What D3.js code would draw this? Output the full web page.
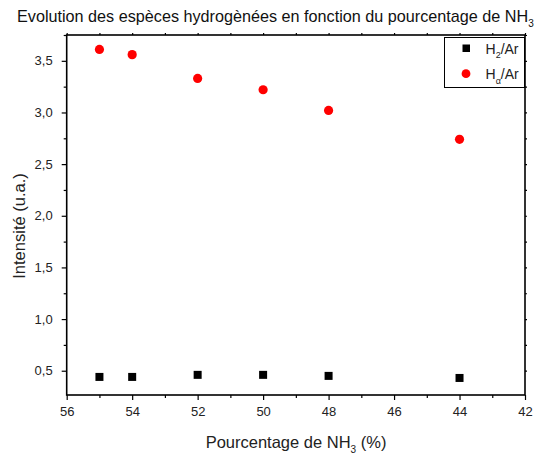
<!DOCTYPE html>
<html>
<head>
<meta charset="utf-8">
<script src="https://cdn.jsdelivr.net/npm/d3@7"></script>
<style>
  html, body { margin: 0; padding: 0; background: #fff; }
  svg { display: block; font-family: "Liberation Sans", Arial, sans-serif; }
</style>
</head>
<body>
<svg id="chart" width="549" height="455"></svg>
<script>
const percentNH3 = [55, 54, 52, 50, 48, 44];
const h2Ar = [0.44, 0.44, 0.46, 0.46, 0.45, 0.43];
const hAlphaAr = [3.61, 3.56, 3.33, 3.22, 3.02, 2.74];
const xMajorTicks = [56, 54, 52, 50, 48, 46, 44, 42];
const xMinorTicks = [55, 53, 51, 49, 47, 45, 43];
const yMajorTicks = [0.5, 1.0, 1.5, 2.0, 2.5, 3.0, 3.5];
const yMinorTicks = [0.75, 1.25, 1.75, 2.25, 2.75, 3.25, 3.75];

(function () {
const svg = d3.select("#chart");
const pL = 66.7, pR = 525, pT = 35, pB = 395;

const x = d3.scaleLinear().domain([56, 42]).range([pL, pR]);
const y = d3.scaleLinear().domain([0.265, 3.75]).range([pB, pT]);
const fmt = d => d.toFixed(1).replace(".", ",");

function styleAxis(g) {
  g.select(".domain").remove();
  g.selectAll(".tick line").attr("stroke", "#000").attr("stroke-width", 1.2);
  g.selectAll(".tick text").attr("fill", "#222").style("font-size", "13px").style("font-family", "'Liberation Sans', Arial, sans-serif");
}

// bottom axis
svg.append("g").attr("transform", `translate(0,${pB})`)
  .call(d3.axisBottom(x).tickValues(xMajorTicks).tickFormat(d3.format("d")).tickSize(5).tickPadding(7))
  .call(styleAxis);
svg.append("g").attr("transform", `translate(0,${pB})`)
  .call(d3.axisBottom(x).tickValues(xMinorTicks).tickFormat("").tickSize(3))
  .call(styleAxis);
// left axis
svg.append("g").attr("transform", `translate(${pL},0)`)
  .call(d3.axisLeft(y).tickValues(yMajorTicks).tickFormat(fmt).tickSize(5).tickPadding(9))
  .call(styleAxis);
svg.append("g").attr("transform", `translate(${pL},0)`)
  .call(d3.axisLeft(y).tickValues(yMinorTicks).tickFormat("").tickSize(3))
  .call(styleAxis);
// top axis
svg.append("g").attr("transform", `translate(0,${pT})`)
  .call(d3.axisTop(x).tickValues(xMajorTicks.concat(xMinorTicks)).tickFormat("").tickSize(2))
  .call(styleAxis);
// right axis
svg.append("g").attr("transform", `translate(${pR},0)`)
  .call(d3.axisRight(y).tickValues(yMajorTicks.concat(yMinorTicks)).tickFormat("").tickSize(2))
  .call(styleAxis);

// frame
svg.append("rect").attr("x", pL).attr("y", pT)
  .attr("width", pR - pL).attr("height", pB - pT)
  .attr("fill", "none").attr("stroke", "#000").attr("stroke-width", 1.6);

// data
svg.append("g").selectAll("rect").data(percentNH3).join("rect")
  .attr("x", d => x(d) - 4).attr("y", (d, i) => y(h2Ar[i]) - 4)
  .attr("width", 8).attr("height", 8).attr("fill", "#000");
svg.append("g").selectAll("circle").data(percentNH3).join("circle")
  .attr("cx", d => x(d)).attr("cy", (d, i) => y(hAlphaAr[i]))
  .attr("r", 4.6).attr("fill", "#ff0000");

// legend
const lg = svg.append("g");
lg.append("rect").attr("x", 444.5).attr("y", 37.5).attr("width", 80).attr("height", 50)
  .attr("fill", "#fff").attr("stroke", "#000").attr("stroke-width", 1);
lg.append("rect").attr("x", 462.5).attr("y", 44.5).attr("width", 7.5).attr("height", 7.5).attr("fill", "#000");
lg.append("circle").attr("cx", 466).attr("cy", 73.7).attr("r", 4.4).attr("fill", "#ff0000");
const t1 = lg.append("text").attr("x", 485.5).attr("y", 53.5).style("font-size", "14px").attr("fill", "#222");
t1.append("tspan").text("H");
t1.append("tspan").attr("dy", 4).style("font-size", "9px").text("2");
t1.append("tspan").attr("dy", -4).text("/Ar");
const t2 = lg.append("text").attr("x", 485.5).attr("y", 78.5).style("font-size", "14px").attr("fill", "#222");
t2.append("tspan").text("H");
t2.append("tspan").attr("dy", 5).style("font-size", "9px").text("α");
t2.append("tspan").attr("dy", -5).text("/Ar");

// title
const title = svg.append("text").attr("x", 17).attr("y", 22).style("font-size", "16.2px").attr("fill", "#111");
title.append("tspan").text("Evolution des espèces hydrogènées en fonction du pourcentage de NH");
title.append("tspan").attr("dy", 5).style("font-size", "10px").text("3");

// x label
const xl = svg.append("text").attr("x", 296).attr("y", 448).attr("text-anchor", "middle").style("font-size", "16.5px").attr("fill", "#222");
xl.append("tspan").text("Pourcentage de NH");
xl.append("tspan").attr("dy", 5).style("font-size", "10px").text("3");
xl.append("tspan").attr("dy", -5).text(" (%)");

// y label
svg.append("text").attr("transform", "translate(25,226) rotate(-90)")
  .attr("text-anchor", "middle").style("font-size", "16.5px").attr("fill", "#222")
  .text("Intensité (u.a.)");
})();
</script>
</body>
</html>
